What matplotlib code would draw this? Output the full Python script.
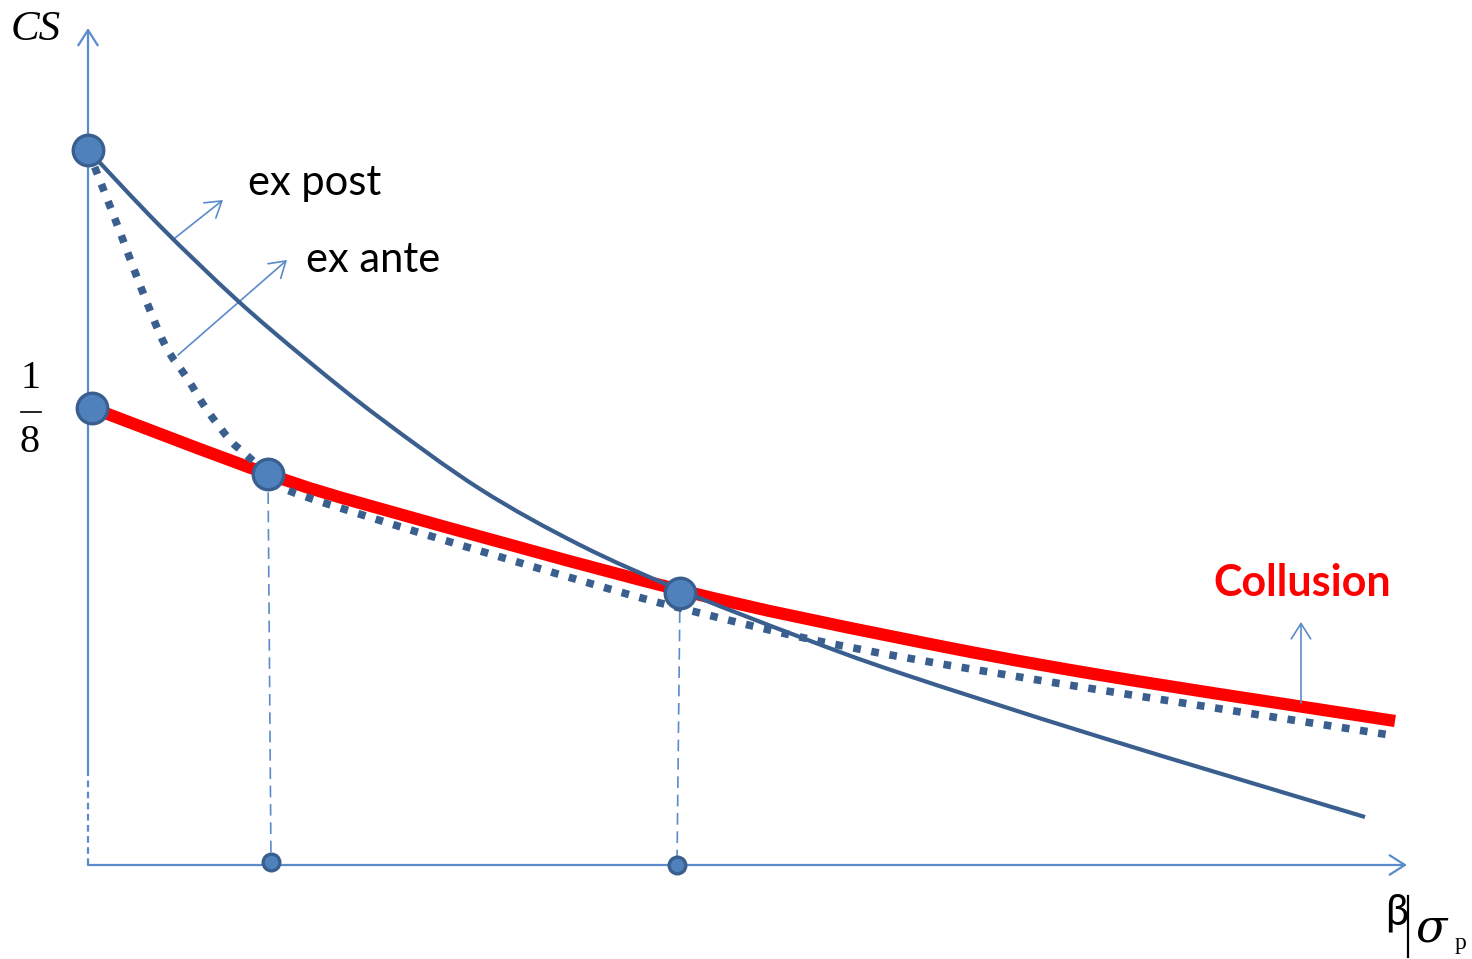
import matplotlib
matplotlib.use("Agg")
import matplotlib.pyplot as plt
import numpy as np
from matplotlib.path import Path
from matplotlib.patches import PathPatch

# ---- curve values (chart units, origin at the corner of the axes) ----
collusion_x = [4, 180, 297, 592, 812, 1012, 1307]
collusion_y = [457, 391, 355, 275, 227, 190, 144]

ex_post_x = [0, 72, 149, 219, 292, 392, 492, 592, 712, 812, 1012, 1277]
ex_post_y = [715, 639, 565, 505, 447, 376, 320, 275, 228, 192, 128, 48]

ex_ante_x = [0, 9, 32, 52, 77, 99, 119, 142, 155, 180, 199, 297, 399, 525,
             592, 712, 825, 1012, 1302]
ex_ante_y = [715, 692, 633, 580, 520, 487, 455, 425, 413, 391, 375, 343, 312,
             275, 257, 228, 206, 175, 130]

# highlighted points on the curves and their feet on the beta axis
key_x = [0, 4, 180, 592]
key_y = [715, 457, 391, 272]
foot_x = [183, 589]
foot_y = [3, 0]

# axis extents
y_axis_top = 837
y_axis_dash_top = 95
x_axis_end = 1319

AXIS = "#5B8BCB"
CURVE = "#3A5F8F"
FILL = "#4F81BD"
RED = "#FF0000"


def smooth_path(xs, ys):
    """Bezier path passing through every given point (Catmull-Rom tangents)."""
    p = np.column_stack([xs, ys]).astype(float)
    n = len(p)
    verts = [p[0]]
    codes = [Path.MOVETO]
    for i in range(n - 1):
        p0 = p[i - 1] if i > 0 else p[i]
        p1, p2 = p[i], p[i + 1]
        p3 = p[i + 2] if i + 2 < n else p[i + 1]
        c1 = p1 + (p2 - p0) / 6.0
        c2 = p2 - (p3 - p1) / 6.0
        verts += [c1, c2, p2]
        codes += [Path.CURVE4] * 3
    return Path(verts, codes)


fig = plt.figure(figsize=(14.72, 9.59), dpi=100)
ax = fig.add_axes([0, 0, 1, 1])
ax.set_xlim(-88, 1384)
ax.set_ylim(-94, 865)
ax.axis("off")

# axes
arrow_kw = dict(arrowstyle="->,head_length=1.1,head_width=0.7",
                color=AXIS, lw=1.6, shrinkA=0, shrinkB=0, mutation_scale=10)
ax.annotate("", xy=(0, y_axis_top), xytext=(0, y_axis_dash_top), arrowprops=arrow_kw)
ax.plot([0, 0], [0, y_axis_dash_top], color=AXIS, lw=1.6, ls=(0, (3, 2)))
ax.annotate("", xy=(x_axis_end, 0), xytext=(0, 0), arrowprops=arrow_kw)

# drop lines to the beta axis
for kx, ky, fx, fy in zip(key_x[2:], key_y[2:], foot_x, foot_y):
    ax.plot([kx, fx], [ky, fy], color=AXIS, lw=1.2, ls=(0, (7, 4)), zorder=2)

# curves
ax.add_patch(PathPatch(smooth_path(collusion_x, collusion_y), fill=False,
                       edgecolor=RED, lw=8.8, capstyle="butt", zorder=3))
ax.add_patch(PathPatch(smooth_path(ex_ante_x, ex_ante_y), fill=False,
                       edgecolor=CURVE, lw=5.5, ls=(0, (1, 1.4)),
                       capstyle="butt", zorder=4))
ax.add_patch(PathPatch(smooth_path(ex_post_x, ex_post_y), fill=False,
                       edgecolor=CURVE, lw=3.0, capstyle="butt", zorder=5))

# points
ax.plot(key_x, key_y, "o", ms=22, mfc=FILL, mec=CURVE, mew=2.4, zorder=6)
ax.plot(foot_x, foot_y, "o", ms=12, mfc=FILL, mec=CURVE, mew=2.4, zorder=6)

# label pointers
thin_kw = dict(arrowstyle="->,head_length=1.1,head_width=0.7",
               color=AXIS, lw=1.2, shrinkA=0, shrinkB=0, mutation_scale=10)
ax.annotate("", xy=(135, 665), xytext=(87, 627), arrowprops=thin_kw)
ax.annotate("", xy=(199, 605), xytext=(90, 510), arrowprops=thin_kw)
ax.annotate("", xy=(1213, 243), xytext=(1213, 162), arrowprops=thin_kw)

# texts
ax.text(160, 682, "ex post", fontsize=30, family="Lato", ha="left", va="center")
ax.text(218, 605, "ex ante", fontsize=30, family="Lato", ha="left", va="center")
ax.text(1125, 282, "Collusion", fontsize=31, family="Lato", fontweight="bold",
        color=RED, ha="left", va="center")
ax.text(-77, 835, "CS", fontsize=31, family="Liberation Serif", style="italic",
        ha="left", va="center")
ax.text(-58, 487, "1", fontsize=29, family="Liberation Serif", ha="center", va="center")
ax.plot([-67, -47], [453, 453], color="black", lw=1.2)
ax.text(-58, 422, "8", fontsize=29, family="Liberation Serif", ha="center", va="center")

# beta | sigma_p label
ax.text(1297, -48, "β", fontsize=30, family="Lato", ha="left", va="center")
ax.plot([1320, 1320], [-31, -92], color="black", lw=1.6)
ax.text(1328, -64, "σ", fontsize=33, family="DejaVu Serif", style="italic",
        ha="left", va="center")
ax.text(1367, -79, "p", fontsize=17, family="Liberation Serif", ha="left", va="center")

fig.savefig("out.png", dpi=100)
